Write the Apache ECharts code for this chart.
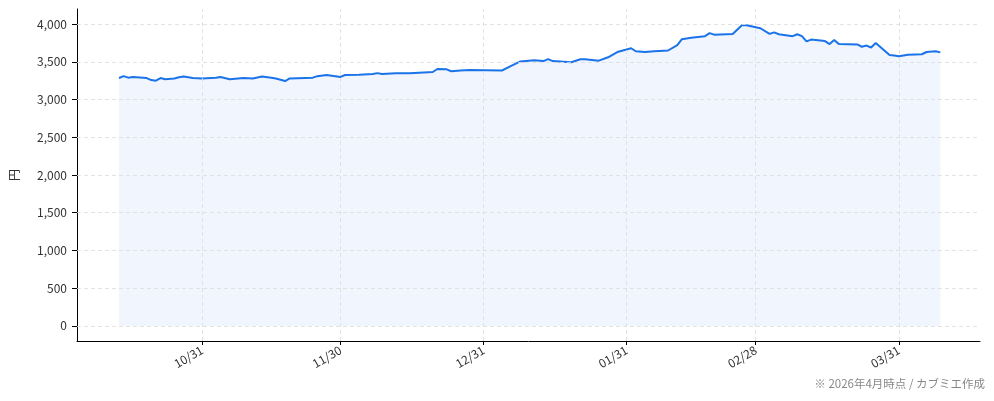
<!DOCTYPE html>
<html>
<head>
<meta charset="utf-8">
<script src="https://cdn.jsdelivr.net/npm/echarts@6/dist/echarts.min.js"></script>
<style>
html,body{margin:0;padding:0;background:#fff;}
#c{width:994px;height:401px;}
</style>
</head>
<body>
<div id="c"></div>
<script>
// Price data (date, value in 円)
const dates = [
 '2025-10-13','2025-10-14','2025-10-15','2025-10-16','2025-10-19','2025-10-20','2025-10-21','2025-10-22','2025-10-23','2025-10-25',
 '2025-10-26','2025-10-27','2025-10-29','2025-10-31','2025-11-03','2025-11-04','2025-11-06','2025-11-09','2025-11-11','2025-11-13',
 '2025-11-15','2025-11-16','2025-11-18','2025-11-19','2025-11-24','2025-11-25','2025-11-27','2025-11-30','2025-12-01','2025-12-04',
 '2025-12-07','2025-12-08','2025-12-09','2025-12-12','2025-12-15','2025-12-18','2025-12-20','2025-12-21','2025-12-23','2025-12-24',
 '2025-12-26','2025-12-28','2026-01-04','2026-01-06','2026-01-08','2026-01-11','2026-01-13','2026-01-14','2026-01-15','2026-01-19',
 '2026-01-21','2026-01-22','2026-01-25','2026-01-27','2026-01-29','2026-02-01','2026-02-02','2026-02-04','2026-02-06','2026-02-09',
 '2026-02-11','2026-02-12','2026-02-14','2026-02-17','2026-02-18','2026-02-19','2026-02-23','2026-02-25','2026-02-26','2026-03-01',
 '2026-03-03','2026-03-04','2026-03-05','2026-03-08','2026-03-09','2026-03-10','2026-03-11','2026-03-12','2026-03-15','2026-03-16',
 '2026-03-17','2026-03-18','2026-03-22','2026-03-23','2026-03-24','2026-03-25','2026-03-26','2026-03-29','2026-03-30','2026-03-31',
 '2026-04-02','2026-04-05','2026-04-06','2026-04-08','2026-04-09'
];
const prices = [
 3285,3310,3290,3298,3285,3258,3250,3285,3270,3280,
 3295,3305,3285,3280,3290,3300,3270,3285,3280,3305,
 3290,3280,3245,3280,3290,3310,3325,3300,3325,3330,
 3340,3350,3340,3350,3350,3360,3365,3405,3400,3375,
 3385,3390,3385,3445,3505,3520,3510,3535,3510,3495,
 3535,3535,3515,3560,3630,3680,3640,3630,3640,3650,
 3720,3800,3820,3840,3880,3860,3870,3985,3985,3945,
 3870,3890,3865,3840,3865,3840,3770,3795,3775,3735,
 3790,3735,3730,3700,3715,3690,3750,3590,3585,3575,
 3595,3600,3630,3640,3625
];
// Axis ticks
const yTicks = [0,500,1000,1500,2000,2500,3000,3500,4000];
const xTickDates = ['2025-10-31','2025-11-30','2025-12-31','2026-01-31','2026-02-28','2026-03-31'];
const yAxisName = '円';
const footnote = '※ 2026年4月時点 / カブミエ作成';

const DAY = 86400000;
const ts = s => Date.UTC(+s.slice(0,4), +s.slice(5,7) - 1, +s.slice(8,10));
const xTickTs = xTickDates.map(ts);
const xMin = ts('2025-10-31') - 27.1 * DAY;
const xMax = ts('2025-10-31') + 168.6 * DAY;
const seriesData = dates.map((d, i) => [ts(d), prices[i]]);

const FONT = '"Noto Sans CJK JP", "Noto Sans", sans-serif';
const gridLineStyle = {color: '#dcdcdc', type: [4, 3], width: 0.8};

const chart = echarts.init(document.getElementById('c'), null, {renderer: 'canvas'});
chart.setOption({
  animation: false,
  textStyle: {fontFamily: FONT},
  grid: {left: 74, right: 14, top: 9, bottom: 60},
  xAxis: {
    type: 'value',
    min: xMin,
    max: xMax,
    axisLine: {show: true, onZero: false, lineStyle: {color: '#000', width: 1}},
    axisTick: {show: true, customValues: xTickTs, length: 4, lineStyle: {color: '#000'}},
    axisLabel: {
      customValues: xTickTs,
      rotate: 30,
      color: '#333',
      fontSize: 12,
      fontFamily: FONT,
      margin: 8,
      formatter: v => {
        const d = new Date(v);
        return String(d.getUTCMonth() + 1).padStart(2, '0') + '/' + String(d.getUTCDate()).padStart(2, '0');
      }
    },
    splitLine: {show: false}
  },
  yAxis: {
    type: 'value',
    min: -200,
    max: 4200,
    name: yAxisName,
    nameLocation: 'middle',
    nameGap: 57,
    nameTextStyle: {color: '#333', fontSize: 12, fontFamily: FONT},
    axisLine: {show: true, onZero: false, lineStyle: {color: '#000', width: 1}},
    axisTick: {show: true, customValues: yTicks, length: 5, lineStyle: {color: '#000'}},
    axisLabel: {
      customValues: yTicks,
      color: '#333',
      fontSize: 12,
      fontFamily: FONT,
      margin: 10,
      formatter: v => v.toLocaleString('en-US')
    },
    splitLine: {show: false}
  },
  series: [
    {
      type: 'line',
      data: [],
      z: 1,
      silent: true,
      markLine: {
        silent: true,
        symbol: 'none',
        label: {show: false},
        lineStyle: gridLineStyle,
        data: yTicks.map(v => ({yAxis: v})).concat(xTickTs.map(v => ({xAxis: v})))
      }
    },
    {
      type: 'line',
      data: seriesData,
      z: 3,
      showSymbol: false,
      symbol: 'none',
      smooth: false,
      lineStyle: {color: '#1a73e8', width: 2},
      areaStyle: {color: 'rgba(26,115,232,0.09)', origin: 0}
    }
  ],
  graphic: [
    {
      type: 'text',
      right: 9,
      top: 378,
      style: {text: footnote, fill: '#888', fontSize: 11.5, fontFamily: FONT}
    }
  ]
});
</script>
</body>
</html>
